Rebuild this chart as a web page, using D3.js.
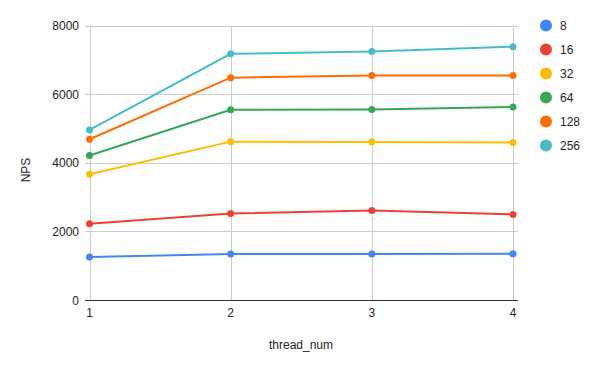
<!DOCTYPE html>
<html>
<head>
<meta charset="utf-8">
<script src="https://cdn.jsdelivr.net/npm/d3@7"></script>
<style>
  body { margin: 0; background: #fff; }
  svg { display: block; font-family: "Liberation Sans", Arial, sans-serif; }
</style>
</head>
<body>
<div id="plot"></div>
<script>
//Set Height and Width Vars;
const w = 600;
const h = 371;

//Data;
const threads = [1, 2, 3, 4];
const seriesNames = ["8", "16", "32", "64", "128", "256"];
const s8 = [1250, 1340, 1340, 1345];
const s16 = [2220, 2520, 2610, 2495];
const s32 = [3665, 4615, 4605, 4590];
const s64 = [4210, 5545, 5550, 5625];
const s128 = [4685, 6480, 6545, 6545];
const s256 = [4955, 7175, 7245, 7380];
const yTicks = [0, 2000, 4000, 6000, 8000];

const seriesValues = [s8, s16, s32, s64, s128, s256];
const colorArray = ["#4285F4", "#EA4335", "#FBBC04", "#34A853", "#FF6D01", "#46BDC6"];

//Initialize SVG;
const svg = d3.select("#plot")
  .append("svg")
    .attr("width", w)
    .attr("height", h);

//Scales;
const xScale = d3.scaleLinear()
  .domain([1, 4])
  .range([89.5, 513]);

const yScale = d3.scaleLinear()
  .domain([0, 8000])
  .range([300, 25.5]);

//Gridlines;
svg.append("g")
  .selectAll("line")
  .data(yTicks.filter(d => d > 0))
  .enter()
  .append("line")
    .attr("x1", 85)
    .attr("x2", 518)
    .attr("y1", d => Math.round(yScale(d)) + 0.5)
    .attr("y2", d => Math.round(yScale(d)) + 0.5)
    .attr("stroke", "#cccccc")
    .attr("stroke-width", 1);

svg.append("g")
  .selectAll("line")
  .data(threads)
  .enter()
  .append("line")
    .attr("x1", d => Math.round(xScale(d)) + 0.5)
    .attr("x2", d => Math.round(xScale(d)) + 0.5)
    .attr("y1", 25.5)
    .attr("y2", 300)
    .attr("stroke", "#cccccc")
    .attr("stroke-width", 1);

//Baseline;
svg.append("line")
  .attr("x1", 85)
  .attr("x2", 518)
  .attr("y1", yScale(0) + 0.5)
  .attr("y2", yScale(0) + 0.5)
  .attr("stroke", "#333333")
  .attr("stroke-width", 1);

//Y tick labels;
svg.append("g")
  .selectAll("text")
  .data(yTicks)
  .enter()
  .append("text")
    .text(d => d)
    .attr("x", 79)
    .attr("y", d => yScale(d) + 4.5)
    .attr("text-anchor", "end")
    .attr("font-size", "12px")
    .attr("fill", "#222");

//X tick labels;
svg.append("g")
  .selectAll("text")
  .data(threads)
  .enter()
  .append("text")
    .text(d => d)
    .attr("x", d => xScale(d))
    .attr("y", 317)
    .attr("text-anchor", "middle")
    .attr("font-size", "12px")
    .attr("fill", "#222");

//Axis titles;
svg.append("text")
  .text("thread_num")
  .attr("x", 301)
  .attr("y", 349)
  .attr("text-anchor", "middle")
  .attr("font-size", "12px")
  .attr("fill", "#222");

svg.append("text")
  .text("NPS")
  .attr("transform", "translate(30,170) rotate(-90)")
  .attr("text-anchor", "middle")
  .attr("font-size", "12px")
  .attr("fill", "#222");

//Lines and points;
const line = d3.line()
  .x((d, i) => xScale(threads[i]))
  .y(d => yScale(d));

const series = svg.append("g")
  .selectAll("g")
  .data(seriesValues)
  .enter()
  .append("g");

series.append("path")
  .attr("d", d => line(d))
  .attr("fill", "none")
  .attr("stroke", (d, i) => colorArray[i])
  .attr("stroke-width", 2);

series.each(function(vals, si) {
  d3.select(this)
    .selectAll("circle")
    .data(vals)
    .enter()
    .append("circle")
      .attr("cx", (d, i) => xScale(threads[i]))
      .attr("cy", d => yScale(d))
      .attr("r", 3.5)
      .attr("fill", colorArray[si]);
});

//Legend;
const legend = svg.append("g")
  .selectAll("g")
  .data(seriesNames)
  .enter()
  .append("g")
    .attr("transform", (d, i) => "translate(546," + (25.5 + i * 24) + ")");

legend.append("circle")
  .attr("r", 6)
  .attr("fill", (d, i) => colorArray[i]);

legend.append("text")
  .text(d => d)
  .attr("x", 14)
  .attr("y", 4.5)
  .attr("font-size", "12px")
  .attr("fill", "#222");
</script>
</body>
</html>
